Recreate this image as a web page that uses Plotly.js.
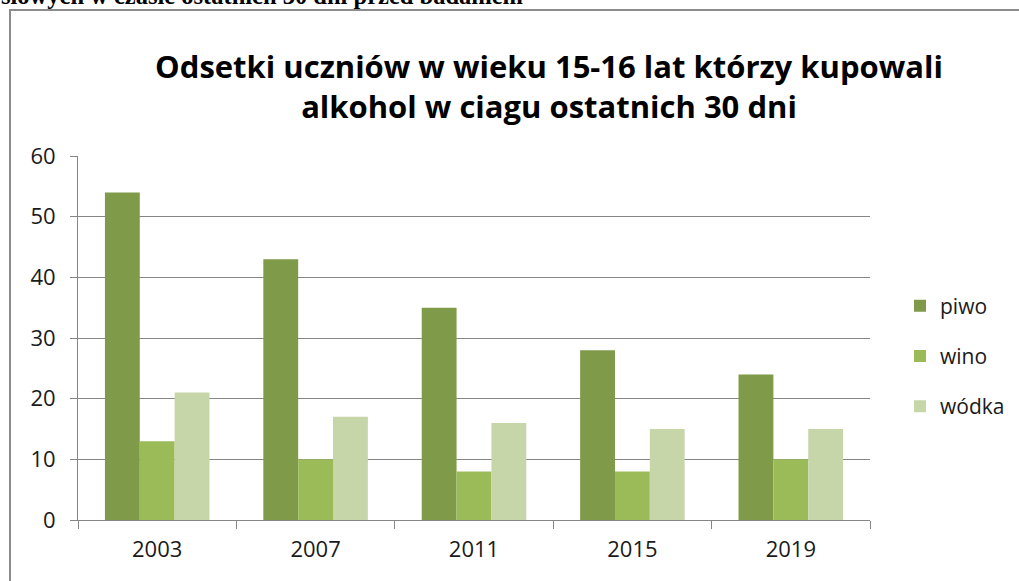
<!DOCTYPE html>
<html>
<head>
<meta charset="utf-8">
<script src="https://cdn.plot.ly/plotly-3.0.1.min.js"></script>
<style>html,body{margin:0;padding:0;background:#fff;}#chart{width:1019px;height:581px;}</style>
</head>
<body>
<div id="chart"></div>
<script>
const years = ['2003', '2007', '2011', '2015', '2019'];
const piwo = [54, 43, 35, 28, 24];
const wino = [13, 10, 8, 8, 10];
const wodka = [21, 17, 16, 15, 15];
const seriesNames = ['piwo', 'wino', 'wódka'];
const colors = ['#7f9a48', '#9bbb59', '#c6d6a8'];
const titleText = 'Odsetki uczniów w wieku 15-16 lat którzy kupowali<br>alkohol w ciagu ostatnich 30 dni';
const headerText = 'słowych w czasie ostatnich 30 dni przed badaniem';

const series = [piwo, wino, wodka];
const traces = series.map((vals, i) => ({
  type: 'bar',
  name: seriesNames[i],
  x: years,
  y: vals,
  legendgroup: seriesNames[i],
  marker: {color: colors[i], line: {width: 0}},
  hoverinfo: 'x+y+name'
}));

const W = 1019, H = 581;
const L = 78, R = 870, T = 156, B = 520;
const pw = R - L, ph = B - T;
const px = v => (v - L) / pw;
const py = v => (B - v) / ph;

const layout = {
  width: W, height: H,
  margin: {l: L, r: W - R, t: T, b: H - B, pad: 0, autoexpand: false},
  paper_bgcolor: '#ffffff',
  plot_bgcolor: '#ffffff',
  font: {family: 'Open Sans, sans-serif', color: '#1a1a1a', size: 21},
  title: {
    text: titleText,
    font: {family: 'Open Sans, sans-serif', size: 31, color: '#000000', weight: 'bold'},
    x: 549 / W, xref: 'container', xanchor: 'center',
    y: 1 - 78 / H, yref: 'container', yanchor: 'middle'
  },
  barmode: 'group',
  bargap: 0.34,
  bargroupgap: 0,
  xaxis: {
    type: 'category',
    showline: true, linecolor: '#868686', linewidth: 1,
    ticks: 'outside', tickson: 'boundaries', ticklen: 8, tickcolor: '#868686',
    showgrid: false,
    tickfont: {family: 'Open Sans, sans-serif', size: 22, color: '#1a1a1a'},
    ticklabelstandoff: 10
  },
  yaxis: {
    range: [0, 60], dtick: 10, tick0: 0,
    showline: true, linecolor: '#868686', linewidth: 1,
    ticks: 'outside', ticklen: 7, tickcolor: '#868686',
    showgrid: true, gridcolor: '#868686', gridwidth: 1,
    zeroline: false,
    tickfont: {family: 'Open Sans, sans-serif', size: 22, color: '#1a1a1a'},
    ticklabelstandoff: 10
  },
  legend: {
    xref: 'container', x: 900 / W, xanchor: 'left',
    y: py(356), yanchor: 'middle',
    font: {family: 'Open Sans, sans-serif', size: 21, color: '#1a1a1a'},
    tracegroupgap: 20,
    bgcolor: 'rgba(0,0,0,0)',
    itemclick: false
  },
  shapes: [{
    type: 'rect', xref: 'paper', yref: 'paper',
    x0: px(10), x1: px(1030), y0: py(600), y1: py(10),
    line: {color: '#8c8c8c', width: 2}, fillcolor: 'rgba(0,0,0,0)', layer: 'below'
  }],
  annotations: [{
    text: headerText, xref: 'paper', yref: 'paper',
    x: px(-1), xanchor: 'left', y: py(11), yanchor: 'bottom',
    showarrow: false,
    font: {family: 'Liberation Serif, Times New Roman, serif', size: 24.5, color: '#000000', weight: 'bold'}
  }],
  showlegend: true
};

Plotly.newPlot('chart', traces, layout, {displayModeBar: false, staticPlot: true});
</script>
</body>
</html>
